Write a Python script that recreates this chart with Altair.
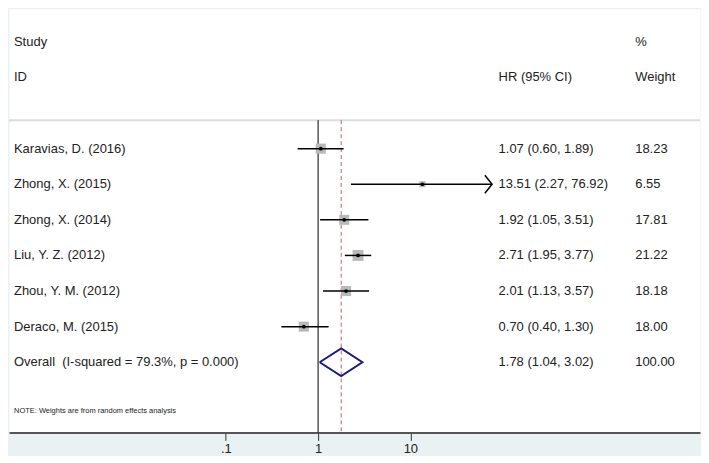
import altair as alt
import pandas as pd

# ---- data ----
studies = ["Karavias, D. (2016)", "Zhong, X. (2015)", "Zhong, X. (2014)",
           "Liu, Y. Z. (2012)", "Zhou, Y. M. (2012)", "Deraco, M. (2015)"]
hr = [1.07, 13.51, 1.92, 2.71, 2.01, 0.70]
ci_lo = [0.60, 2.27, 1.05, 1.95, 1.13, 0.40]
ci_hi = [1.89, 76.92, 3.51, 3.77, 3.57, 1.30]
weights = [18.23, 6.55, 17.81, 21.22, 18.18, 18.00]

overall_label = "Overall \u00a0(I-squared = 79.3%, p = 0.000)"
overall_hr = 1.78
overall_lo = 1.04
overall_hi = 3.02
overall_weight = 100.00

tick_values = [0.1, 1, 10]
tick_labels = [".1", "1", "10"]
header_left = ["Study", "ID"]
header_mid = ["", "HR (95% CI)"]
header_right = ["%", "Weight"]
note = "NOTE: Weights are from random effects analysis"

# ---- layout ----
W, H = 693, 425
FONT = "Liberation Sans"
TXT = "#222222"
decade_px = 92.5
one_px = 310
x_min = 10 ** (-one_px / decade_px)
x_max = 10 ** ((W - one_px) / decade_px)
y_top, y_bot = -0.933, 10.972
sep_row = 2.2
first_row = 3
overall_row = first_row + len(studies)
note_row = 10.36
diamond_half = 0.39

xs = alt.Scale(type="log", domain=[x_min, x_max], nice=False, zero=False)
ys = alt.Scale(domain=[y_top, y_bot], reverse=True, nice=False, zero=False)

df = pd.DataFrame({
    "study": studies, "hr": hr, "lo": ci_lo, "hi": ci_hi, "w": weights,
    "row": list(range(first_row, first_row + len(studies))),
})

rows_text = []
for i, (a, b) in enumerate(zip(header_left, header_right)):
    rows_text.append({"left": a, "mid": header_mid[i], "right": b, "row": i})
for s, h, l, u, w, r in zip(studies, hr, ci_lo, ci_hi, weights, df["row"]):
    rows_text.append({"left": s, "mid": f"{h:.2f} ({l:.2f}, {u:.2f})",
                      "right": f"{w:.2f}", "row": int(r)})
rows_text.append({"left": overall_label,
                  "mid": f"{overall_hr:.2f} ({overall_lo:.2f}, {overall_hi:.2f})",
                  "right": f"{overall_weight:.2f}", "row": overall_row})
tdf = pd.DataFrame(rows_text)

dia = pd.DataFrame({
    "x": [overall_lo, overall_hr, overall_hi, overall_hr, overall_lo],
    "y": [overall_row, overall_row - diamond_half, overall_row,
          overall_row + diamond_half, overall_row],
    "o": [0, 1, 2, 3, 4],
})

label_expr = " : ".join(
    [f"datum.value == {v} ? '{t}'" for v, t in zip(tick_values, tick_labels)]
) + " : ''"

X = lambda f: alt.X(f, scale=xs, title="",
                    axis=alt.Axis(values=tick_values, labelExpr=label_expr,
                                  grid=False, domainColor="#555555", domainWidth=2,
                                  tickColor="#333333", tickSize=8, tickWidth=1,
                                  labelFont=FONT, labelFontSize=13, labelColor=TXT,
                                  labelPadding=2, orient="bottom"))
Y = lambda f: alt.Y(f, scale=ys, axis=None)

base = alt.Chart(df)

sep = base.mark_rule(color="#dcdcdc", strokeWidth=2).encode(
    y=Y("r:Q")).transform_calculate(r=str(sep_row)).transform_filter("datum.row == 3")

null_line = base.mark_rule(color="black", strokeWidth=1).encode(
    x=X("xv:Q"), y=Y("y1:Q"), y2="y2:Q"
).transform_calculate(xv="1", y1=str(sep_row), y2=str(y_bot)).transform_filter("datum.row == 3")

eff_line = base.mark_rule(color="#b5656a", strokeWidth=1, strokeDash=[4, 3]).encode(
    x=X("xv:Q"), y=Y("y1:Q"), y2="y2:Q"
).transform_calculate(xv=str(overall_hr), y1=str(sep_row), y2=str(y_bot)).transform_filter("datum.row == 3")

squares = base.mark_square(color="#b9b9b9", opacity=1, filled=True).encode(
    x=X("hr:Q"), y=Y("row:Q"),
    size=alt.Size("w:Q", scale=alt.Scale(domain=[0, 21.22], range=[0, 120], zero=True), legend=None))

ci = base.mark_rule(color="black", strokeWidth=1.5).encode(
    x=X("lo:Q"), x2="hi:Q", y=Y("row:Q"))

dots = base.mark_circle(color="black", size=14, opacity=1).encode(
    x=X("hr:Q"), y=Y("row:Q"))

arrows = base.mark_point(shape="M-0.8,-1L0,0L-0.8,1", size=324, filled=False,
                         color="black", strokeWidth=1.5, opacity=1).encode(
    x=X("hi:Q"), y=Y("row:Q")).transform_filter(f"datum.hi > {max(tick_values)}")

diamond = alt.Chart(dia).mark_line(color="#1c1c78", strokeWidth=2).encode(
    x=X("x:Q"), y=Y("y:Q"), order="o:Q")

t_left = alt.Chart(tdf).mark_text(align="left", baseline="middle", font=FONT,
                                  fontSize=13, color=TXT).encode(
    x=alt.value(5), y=Y("row:Q"), text="left:N")
t_mid = alt.Chart(tdf).mark_text(align="left", baseline="middle", font=FONT,
                                 fontSize=13, color=TXT).encode(
    x=alt.value(491), y=Y("row:Q"), text="mid:N")
t_right = alt.Chart(tdf).mark_text(align="left", baseline="middle", font=FONT,
                                   fontSize=13, color=TXT).encode(
    x=alt.value(628), y=Y("row:Q"), text="right:N")

t_note = alt.Chart(pd.DataFrame({"t": [note], "row": [note_row]})).mark_text(
    align="left", baseline="middle", font=FONT, fontSize=7.5, color=TXT).encode(
    x=alt.value(5), y=Y("row:Q"), text="t:N")

chart = alt.layer(
    sep, null_line, eff_line, squares, ci, dots, arrows, diamond,
    t_left, t_mid, t_right, t_note
).properties(width=W, height=H, padding=0, background="#eaf1f3").configure_view(
    fill="white", stroke="transparent")

chart.save("out.html", embed_options={"renderer": "svg", "actions": False})
